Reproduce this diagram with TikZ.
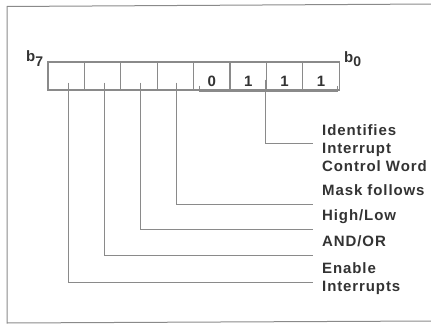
\documentclass[tikz,border=0pt]{standalone}
\usepackage{fontspec}
\usetikzlibrary{calc}
\setmainfont{Liberation Sans}
\newfontfamily\lblfont{Liberation Sans}[LetterSpace=6]
\definecolor{inkc}{HTML}{333333}
\definecolor{linec}{HTML}{8A8A8A}
\begin{document}
\begin{tikzpicture}[x=1pt,y=-1pt,
  bitbox/.style={draw=linec,line width=1.1pt,minimum width=36.4pt,minimum height=28pt,inner sep=0pt,
    text height=21pt,text depth=0pt,font=\lblfont\bfseries\fontsize{15}{15}\selectfont,text=inkc},
  lbl/.style={anchor=base west,inner sep=0pt,font=\lblfont\bfseries\fontsize{15}{15}\selectfont,text=inkc},
  wire/.style={draw=linec,line width=1pt}]
\useasboundingbox (0,0) rectangle (431,329);
% frame
\draw[linec,line width=1pt] (433,4) -- (7,6.5) -- (7,323) -- (433,321);
% bit boxes
\foreach \i/\t in {7/,6/,5/,4/,3/0,2/1,1/1,0/1}{
  \node[bitbox] (bit\i) at ({48+36.4*(7-\i+0.5)},76) {\t};
}
\node[lbl] (lb7) at (26,62) {b\raisebox{-4.5pt}{\fontsize{14}{14}\selectfont 7}};
\node[lbl] (lb0) at (344,63) {b\raisebox{-3.5pt}{\fontsize{14}{14}\selectfont 0}};
% labels
\node[lbl] (l1a) at (322,135) {Identifies};
\node[lbl] (l1b) at (322,153) {Interrupt};
\node[lbl] (l1c) at (322,171) {Control Word};
\node[lbl] (l2) at (322,195) {Mask follows};
\node[lbl] (l3) at (322,220) {High/Low};
\node[lbl] (l4) at (322,246) {AND/OR};
\node[lbl] (l5a) at (322,273) {Enable};
\node[lbl] (l5b) at (322,291) {Interrupts};
% bracket under bits 3..0
\coordinate (brL) at ([xshift=6pt,yshift=5pt]bit3.south west);
\coordinate (brR) at ([xshift=-2pt,yshift=5pt]bit0.south east);
\coordinate (brM) at ($(brL)!0.48!(brR)$);
\draw[wire] (brL) -- ++(0,6) -| (brR);
\draw[wire] ([yshift=6pt]brM) |- ([xshift=-9pt,yshift=-8pt]l1a.base west);
% leaders
\draw[wire] ([xshift=1pt,yshift=8pt]bit4.south) |- ([xshift=-9pt,yshift=-9pt]l2.base west);
\draw[wire] ([xshift=1pt,yshift=8pt]bit5.south) |- ([xshift=-9pt,yshift=-9pt]l3.base west);
\draw[wire] ([xshift=2pt,yshift=8pt]bit6.south) |- ([xshift=-9pt,yshift=-9pt]l4.base west);
\draw[wire] ([xshift=2pt,yshift=8pt]bit7.south) |- ([xshift=-9pt,yshift=-9pt]l5a.base west);
\end{tikzpicture}
\end{document}
